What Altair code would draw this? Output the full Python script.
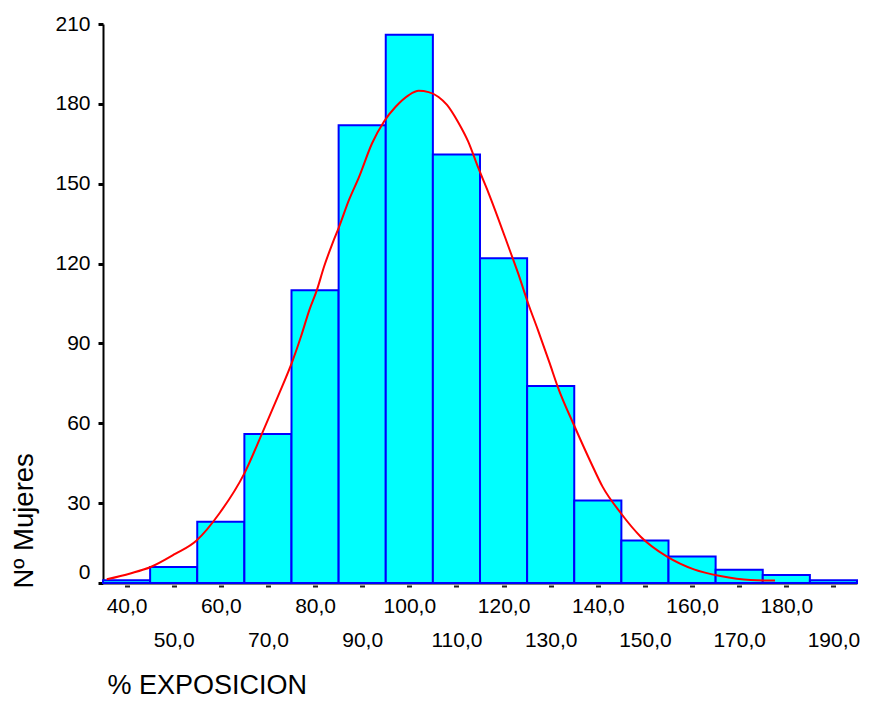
import altair as alt
import pandas as pd

# Histogram: bin centres (% EXPOSICION) and counts (Nº Mujeres)
bin_centers = [40, 50, 60, 70, 80, 90, 100, 110, 120, 130, 140, 150, 160, 170, 180, 190]
counts = [1, 6, 23, 56, 110, 172, 206, 161, 122, 74, 31, 16, 10, 5, 3, 1]
bin_width = 10

# Fitted normal curve
curve_x = [35.8, 40.8, 45.0, 50.3, 54.8, 59.8, 65.0, 68.9, 72.1, 75.3, 77.0, 78.8,
           80.4, 81.9, 83.7, 85.1, 87.2, 89.3, 92.1, 94.6, 97.1, 99.9, 102.0, 104.1,
           106.2, 108.0, 110.4, 112.5, 114.6, 116.8, 121.3, 123.1, 125.2, 127.3,
           129.8, 131.5, 135.1, 138.6, 141.0, 144.9, 149.1, 154.7, 160.4, 166.0,
           172.4, 177.6]
curve_y = [1.4, 3.6, 5.9, 10.9, 15.9, 26.4, 41.2, 56.8, 70.0, 83.8, 92.5, 102.6,
           110.1, 118.8, 127.6, 133.8, 143.9, 152.4, 165.2, 173.3, 178.9, 183.3, 184.9, 184.4,
           182.6, 179.6, 173.0, 165.8, 156.1, 146.6, 125.1, 116.3, 105.1, 95.0,
           82.5, 73.7, 58.7, 45.0, 36.2, 26.2, 17.4, 9.9, 5.1, 2.6,
           1.1, 0.9]

x_ticks = [40, 50, 60, 70, 80, 90, 100, 110, 120, 130, 140, 150, 160, 170, 180, 190]
y_ticks = [0, 30, 60, 90, 120, 150, 180, 210]

bars_df = pd.DataFrame({"center": bin_centers, "count": counts})
curve_df = pd.DataFrame({"x": curve_x, "y": curve_y})

FONT = "Liberation Sans"

x_scale = alt.Scale(domain=[35, 195], nice=False, zero=False)
y_scale = alt.Scale(domain=[0, 210], nice=False)

x_axis = alt.Axis(
    values=x_ticks,
    title="% EXPOSICION",
    titleFont=FONT, titleFontSize=27, titleFontWeight="normal", titleColor="black",
    titleAnchor="start", titleAlign="left", titleBaseline="alphabetic",
    titleX=4, titleY=110,
    labelFont=FONT, labelFontSize=21, labelColor="black",
    labelExpr="replace(format(datum.value, '.1f'), '.', ',')",
    labelPadding={"condition": {"test": "datum.value % 20 == 0", "value": 8}, "value": 42},
    labelOverlap=False, labelFlush=False, labelBound=False,
    domainColor="black", domainWidth=2,
    tickColor="#222222", tickSize=4, tickWidth=5, tickDash=[0, 2, 2],
    grid=False,
)

y_axis = alt.Axis(
    values=y_ticks,
    title="Nº Mujeres",
    titleFont=FONT, titleFontSize=27.5, titleFontWeight="normal", titleColor="black",
    titleAngle=-90, titleAlign="left", titleBaseline="middle",
    titleX=-79, titleY=564,
    labelFont=FONT, labelFontSize=21, labelColor="black",
    labelPadding=8,
    labelOffset={"condition": {"test": "datum.value == 0", "value": -11}, "value": 0},
    labelOverlap=False, labelFlush=False,
    domainColor="black", domainWidth=2,
    tickColor="black", tickSize=5, tickWidth=3,
    grid=False,
)

bars = alt.Chart(bars_df).transform_calculate(
    start=f"datum.center - {bin_width}/2",
    end=f"datum.center + {bin_width}/2",
).mark_rect(
    color="#00FFFF", stroke="#0000FF", strokeWidth=2, opacity=1
).encode(
    x=alt.X("start:Q", scale=x_scale, axis=x_axis),
    x2="end:Q",
    y=alt.Y("count:Q", scale=y_scale, axis=y_axis),
    y2=alt.datum(0),
)

curve = alt.Chart(curve_df).mark_line(
    color="#FF0000", strokeWidth=2, interpolate="monotone"
).encode(
    x=alt.X("x:Q", scale=x_scale),
    y=alt.Y("y:Q", scale=y_scale),
)

chart = alt.layer(bars, curve).properties(
    width=754,
    height=559,
    autosize=alt.AutoSizeParams(type="none"),
    padding={"left": 95, "top": 16, "right": 4, "bottom": 118},
    background="white",
).configure_view(stroke=None)

chart.save("out.html", embed_options={"renderer": "svg", "actions": False})
